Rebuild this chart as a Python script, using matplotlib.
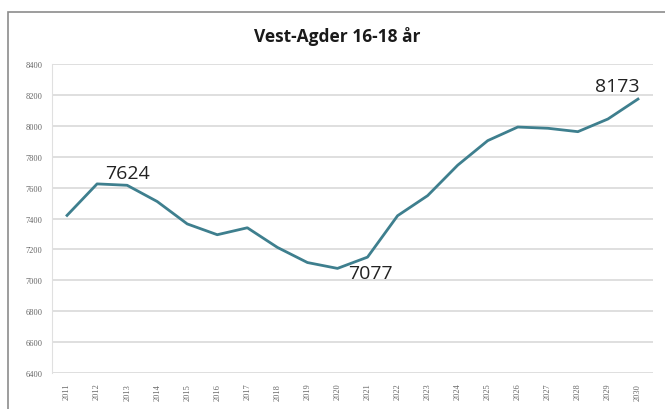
import matplotlib.pyplot as plt
from matplotlib.patches import Rectangle

years = [str(y) for y in range(2011, 2031)]
values = [7420, 7624, 7615, 7510, 7365, 7295, 7340, 7213, 7115, 7077,
          7150, 7418, 7548, 7745, 7904, 7992, 7984, 7962, 8044, 8173]
y_ticks = list(range(6400, 8401, 200))

fig = plt.figure(figsize=(6.65, 4.10), dpi=100)
fig.patch.set_facecolor('white')

# outer chart frame (runs off the picture at right and bottom)
fig.patches.append(Rectangle((7.5 / 665, -0.05), 1.0, 1.05 - 13 / 410,
                             transform=fig.transFigure, fill=False,
                             edgecolor='#8c8c8c', linewidth=1.2))

ax = fig.add_axes([52 / 665, 1 - 374 / 410, 601 / 665, 309 / 410])
x = list(range(len(years)))
ax.plot(x, values, color='#3e7f8e', linewidth=2, solid_joinstyle='round')

ax.set_xlim(-0.5, len(years) - 0.5)
ax.set_ylim(6400, 8400)
ax.set_yticks(y_ticks)
ax.set_yticklabels([str(v) for v in y_ticks], fontsize=6, color='#666666',
                   family='Liberation Serif')
ax.set_xticks(x)
ax.set_xticklabels(years, rotation=90, fontsize=6, color='#666666',
                   family='Liberation Serif')
ax.tick_params(length=0, pad=7)
ax.grid(axis='y', color='#d9d9d9', linewidth=1.2)
ax.set_axisbelow(True)
for side in ['top', 'right', 'bottom']:
    ax.spines[side].set_visible(False)
ax.spines['left'].set_color('#e0e0e0')

# data labels
ax.text(2, 7624 + 15, '7624', fontsize=14, ha='center', va='bottom',
        color='#222222', family='Open Sans')
ax.text(9.35, 7050, '7077', fontsize=14, ha='left', va='center',
        color='#222222', family='Open Sans')
ax.text(18.3, 8173 + 25, '8173', fontsize=14, ha='center', va='bottom',
        color='#222222', family='Open Sans')

fig.text(337 / 665, 1 - 36 / 410, 'Vest-Agder 16-18 år', fontsize=12.5,
         fontweight='bold', ha='center', va='center', color='#1a1a1a',
         family='Open Sans')

fig.savefig('out.png', dpi=100)
